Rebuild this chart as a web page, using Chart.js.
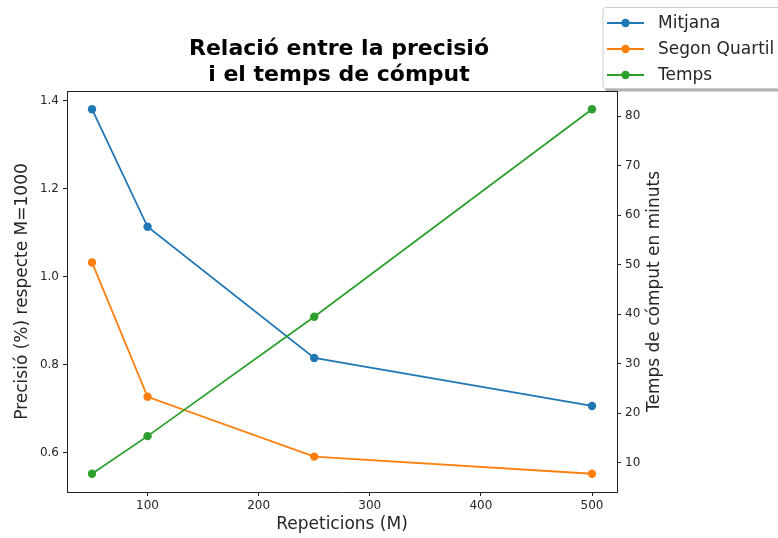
<!DOCTYPE html>
<html>
<head>
<meta charset="utf-8">
<script src="https://cdn.jsdelivr.net/npm/chart.js@4"></script>
<style>
  html, body { margin: 0; padding: 0; background: #fff; }
  #wrap { width: 778px; height: 538px; position: relative; }
</style>
</head>
<body>
<div id="wrap"><canvas id="c" width="778" height="538"></canvas></div>
<script>
// Number of repetitions M
const repeticions = [50, 100, 250, 500];
// Precision (%) relative to M=1000
const mitjana = [1.380, 1.113, 0.815, 0.706];
const segonQuartil = [1.032, 0.727, 0.591, 0.552];
// Compute time in minutes
const temps = [7.8, 15.4, 39.5, 81.4];

const ticksX = [100, 200, 300, 400, 500];
const ticksPrec = [0.6, 0.8, 1.0, 1.2, 1.4];
const ticksTemps = [10, 20, 30, 40, 50, 60, 70, 80];

const titol = ['Relació entre la precisió', 'i el temps de cómput'];
const etiquetaX = 'Repeticions (M)';
const etiquetaY = 'Precisió (%) respecte M=1000';
const etiquetaY2 = 'Temps de cómput en minuts';

const BLUE = '#1f77b4', ORANGE = '#ff7f0e', GREEN = '#2ca02c';
const FONT = '"DejaVu Sans", sans-serif';
const TXT = '#262626';

const pts = (xs, ys) => xs.map((x, i) => ({ x: x, y: ys[i] }));

function serie(label, values, color, axis, order) {
  return {
    label: label,
    data: pts(repeticions, values),
    yAxisID: axis,
    borderColor: color,
    backgroundColor: color,
    pointBackgroundColor: color,
    pointBorderColor: color,
    borderWidth: 1.8,
    pointRadius: 4.2,
    pointBorderWidth: 0,
    tension: 0,
    order: order
  };
}

const fixedTicks = list => scale => { scale.ticks = list.map(v => ({ value: v })); };

// Frame, titles and legend drawn on top of the Chart.js axes
const decor = {
  id: 'decor',
  afterDraw(chart) {
    const ctx = chart.ctx;
    const a = chart.chartArea;
    ctx.save();
    // top spine
    ctx.strokeStyle = '#222';
    ctx.lineWidth = 1;
    ctx.beginPath();
    ctx.moveTo(a.left, a.top + 0.5);
    ctx.lineTo(a.right, a.top + 0.5);
    ctx.stroke();

    // title
    const cx = (a.left + a.right) / 2;
    ctx.fillStyle = '#000';
    ctx.font = 'bold 22px ' + FONT;
    ctx.textAlign = 'center';
    ctx.textBaseline = 'middle';
    ctx.fillText(titol[0], cx - 3, 49);
    ctx.fillText(titol[1], cx - 3, 75);

    // axis labels
    ctx.fillStyle = TXT;
    ctx.font = '17px ' + FONT;
    ctx.fillText(etiquetaX, cx, 525);
    const cy = (a.top + a.bottom) / 2;
    ctx.save();
    ctx.translate(23, cy);
    ctx.rotate(-Math.PI / 2);
    ctx.fillText(etiquetaY, 0, 0);
    ctx.restore();
    ctx.save();
    ctx.translate(655, cy);
    ctx.rotate(-Math.PI / 2);
    ctx.fillText(etiquetaY2, 0, 0);
    ctx.restore();

    // legend
    const lx = 603, ly = 7.5, lw = 190, lh = 81;
    const r = 3;
    const box = (x, y, w, h) => {
      ctx.beginPath();
      ctx.moveTo(x + r, y);
      ctx.lineTo(x + w - r, y);
      ctx.arcTo(x + w, y, x + w, y + r, r);
      ctx.lineTo(x + w, y + h - r);
      ctx.arcTo(x + w, y + h, x + w - r, y + h, r);
      ctx.lineTo(x + r, y + h);
      ctx.arcTo(x, y + h, x, y + h - r, r);
      ctx.lineTo(x, y + r);
      ctx.arcTo(x, y, x + r, y, r);
      ctx.closePath();
    };
    ctx.fillStyle = 'rgba(0,0,0,0.3)';
    box(lx + 2, ly + 3, lw, lh);
    ctx.fill();
    ctx.fillStyle = '#fff';
    box(lx, ly, lw, lh);
    ctx.fill();
    ctx.strokeStyle = '#cccccc';
    ctx.lineWidth = 1;
    ctx.stroke();

    const rows = [23, 49, 75];
    chart.data.datasets.forEach((ds, i) => {
      const y = rows[i];
      ctx.strokeStyle = ds.borderColor;
      ctx.lineWidth = 1.8;
      ctx.beginPath();
      ctx.moveTo(607, y);
      ctx.lineTo(644, y);
      ctx.stroke();
      ctx.fillStyle = ds.borderColor;
      ctx.beginPath();
      ctx.arc(625.5, y, 4.2, 0, Math.PI * 2);
      ctx.fill();
      ctx.fillStyle = TXT;
      ctx.font = '17px ' + FONT;
      ctx.textAlign = 'left';
      ctx.textBaseline = 'middle';
      ctx.fillText(ds.label, 658, y + 1);
    });
    ctx.restore();
  }
};

const tickFont = { family: FONT, size: 12 };

new Chart(document.getElementById('c'), {
  type: 'line',
  data: {
    datasets: [
      serie('Mitjana', mitjana, BLUE, 'y', 2),
      serie('Segon Quartil', segonQuartil, ORANGE, 'y', 1),
      serie('Temps', temps, GREEN, 'y1', 0)
    ]
  },
  options: {
    responsive: false,
    animation: false,
    devicePixelRatio: 1,
    layout: { padding: { top: 91, left: 0, right: 0, bottom: 0 } },
    plugins: { legend: { display: false }, tooltip: { enabled: false }, title: { display: false } },
    scales: {
      x: {
        type: 'linear',
        min: 27.5,
        max: 522.5,
        afterBuildTicks: fixedTicks(ticksX),
        afterFit: s => { s.height = 46; },
        grid: { drawOnChartArea: false, tickLength: 4, color: '#222' },
        border: { display: true, color: '#222', width: 1 },
        ticks: { font: tickFont, color: TXT, padding: 3, maxRotation: 0 }
      },
      y: {
        type: 'linear',
        position: 'left',
        min: 0.5106,
        max: 1.4214,
        afterBuildTicks: fixedTicks(ticksPrec),
        afterFit: s => { s.width = 67; },
        grid: { drawOnChartArea: false, tickLength: 4, color: '#222' },
        border: { display: true, color: '#222', width: 1 },
        ticks: { font: tickFont, color: TXT, padding: 4, callback: v => v.toFixed(1) }
      },
      y1: {
        type: 'linear',
        position: 'right',
        min: 4.12,
        max: 85.08,
        afterBuildTicks: fixedTicks(ticksTemps),
        afterFit: s => { s.width = 161; },
        grid: { drawOnChartArea: false, tickLength: 4, color: '#222' },
        border: { display: true, color: '#222', width: 1 },
        ticks: { font: tickFont, color: TXT, padding: 4, callback: v => String(v) }
      }
    }
  },
  plugins: [decor]
});
</script>
</body>
</html>
